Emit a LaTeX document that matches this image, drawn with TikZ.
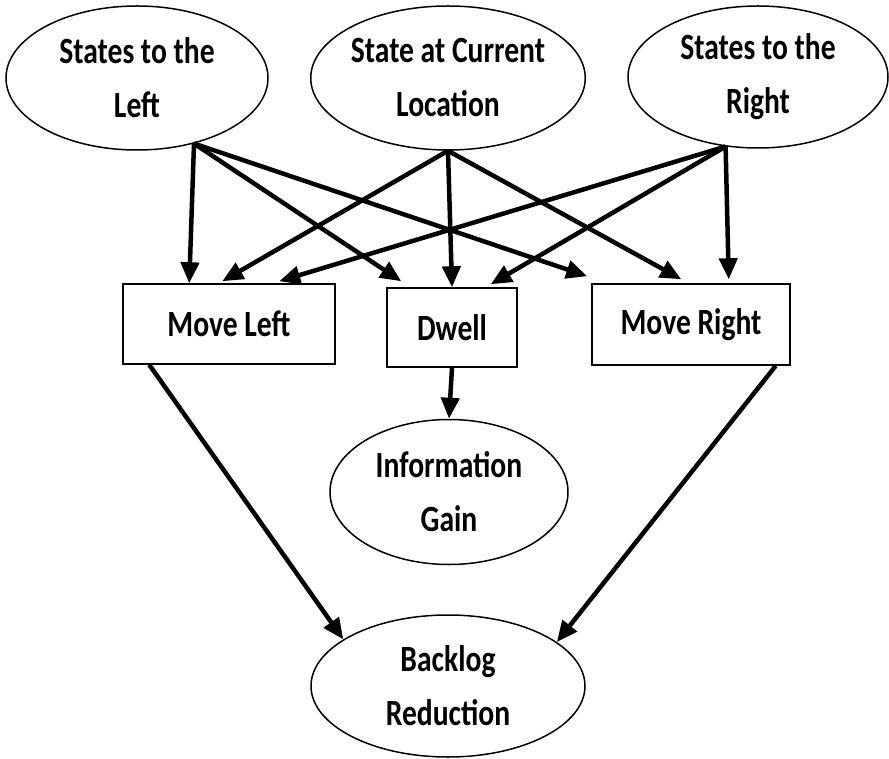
\documentclass[tikz,border=0pt]{standalone}
\usepackage{fontspec}
\setmainfont{Carlito}[FakeStretch=0.8]
\usetikzlibrary{shapes.geometric,arrows.meta}

\tikzset{
  oval/.style={ellipse, draw, line width=1.5pt, inner sep=0pt,
    align=center, font=\fontsize{37}{54}\selectfont\bfseries},
  actbox/.style={rectangle, draw, line width=1.5pt, inner sep=0pt,
    font=\fontsize{37}{54}\selectfont\bfseries},
  link/.style={line width=4.5pt, -{Triangle[length=21pt,width=18pt]}}
}

\begin{document}
\begin{tikzpicture}[x=1pt,y=-1pt]
\useasboundingbox (0,0) rectangle (889,759);

% source states
\node[oval, minimum width=262pt, minimum height=144pt] (L) at (137,78) {States to the\\Left};
\node[oval, minimum width=260pt, minimum height=144pt] (C) at (448,78) {State at Current\\Location};
\node[oval, minimum width=260pt, minimum height=142pt] (R) at (758,77) {States to the\\Right};

% actions
\node[actbox, minimum width=212pt, minimum height=80pt] (ML) at (229,324) {Move Left};
\node[actbox, minimum width=130pt, minimum height=79pt] (DW) at (452,327.5) {Dwell};
\node[actbox, minimum width=198pt, minimum height=81pt] (MR) at (691,324.5) {Move Right};

% outcomes
\node[oval, minimum width=238pt, minimum height=145pt] (IG) at (449,492) {Information\\Gain};
\node[oval, minimum width=274pt, minimum height=142pt] (BR) at (448,686) {Backlog\\Reduction};

% from the left states
\draw[link] (L.-49) -- ([xshift=67pt]ML.north west);
\draw[link] (L.-49) -- ([xshift=15pt,yshift=6pt]DW.north west);
\draw[link] (L.-49) -- ([xshift=-4pt,yshift=7pt]MR.north west);

% from the current state
\draw[link] (C.south) -- ([xshift=100pt,yshift=2pt]ML.north west);
\draw[link] (C.south) -- (DW.north);
\draw[link] (C.south) -- ([xshift=90pt,yshift=4pt]MR.north west);

% from the right states
\draw[link] (R.-115) -- ([xshift=157pt,yshift=2pt]ML.north west);
\draw[link] (R.-115) -- ([xshift=-27pt,yshift=3pt]DW.north east);
\draw[link] (R.-115) -- ([xshift=-62pt,yshift=4pt]MR.north east);

% to the outcomes
\draw[link] (DW.south) -- (IG.north);
\draw[link] ([xshift=27pt]ML.south west) -- (BR.156);
\draw[link] ([xshift=-15pt]MR.south east) -- (BR.22);
\end{tikzpicture}
\end{document}
